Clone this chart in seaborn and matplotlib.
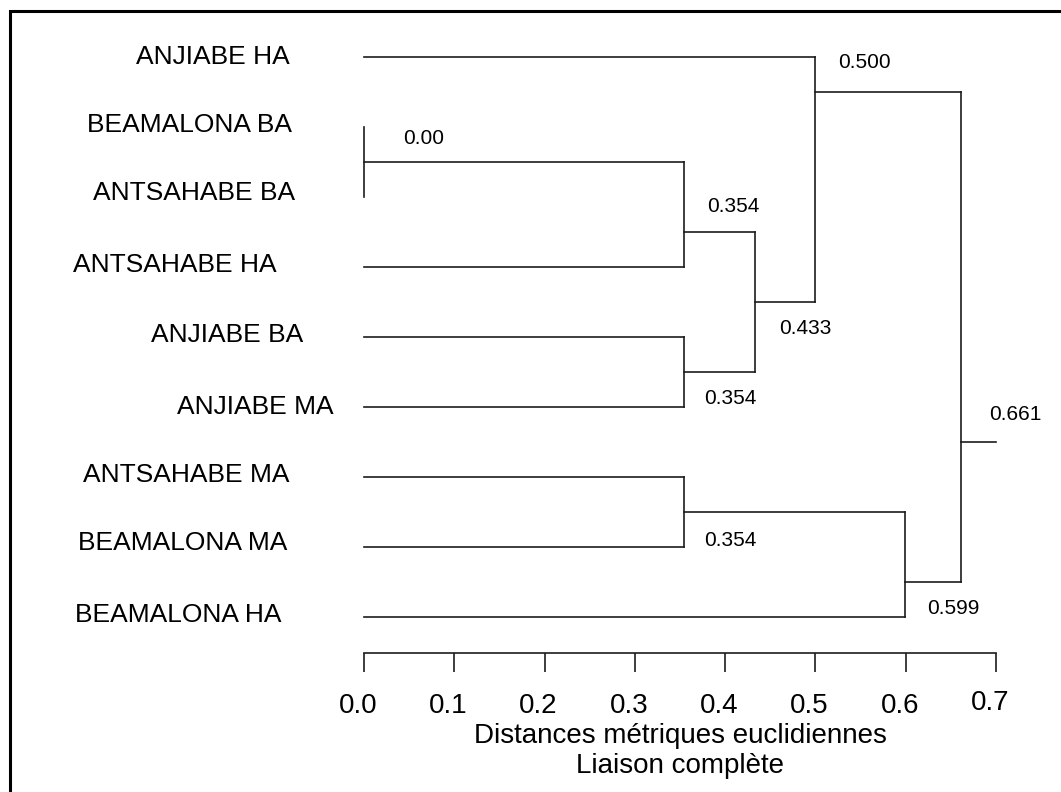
import matplotlib
matplotlib.use("Agg")
import matplotlib.pyplot as plt
from matplotlib.lines import Line2D
from matplotlib.transforms import ScaledTranslation
import pandas as pd
import seaborn as sns

# Sampling sites, listed from top to bottom of the tree
sites = ["ANJIABE HA", "BEAMALONA BA", "ANTSAHABE BA", "ANTSAHABE HA",
         "ANJIABE BA", "ANJIABE MA", "ANTSAHABE MA", "BEAMALONA MA",
         "BEAMALONA HA"]

# Complete-linkage agglomeration: clusters 0..8 are the sites,
# step k joins merge_left[k] and merge_right[k] into cluster 9 + k.
merge_left = [1, 9, 4, 10, 0, 6, 14, 13]
merge_right = [2, 3, 5, 11, 12, 7, 8, 15]
merge_height = [0.00, 0.354, 0.354, 0.433, 0.500, 0.354, 0.599, 0.661]
height_decimals = [2, 3, 3, 3, 3, 3, 3, 3]

x_ticks = [0.0, 0.1, 0.2, 0.3, 0.4, 0.5, 0.6, 0.7]
x_tick_labels = ["0.0", "0.1", "0.2", "0.3", "0.4", "0.5", "0.6", "0.7"]
x_title = "Distances métriques euclidiennes\nLiaison complète"

# ---- layout -------------------------------------------------------------
W, H, DPI = 1061, 792, 100
AX_LEFT, AX_RIGHT = 364, 996          # pixel span of the distance axis
AX_TOP, AX_BOTTOM = 22, 653           # pixel span of the axes (bottom = axis line)
SLOT0, SLOT_STEP = 57, 70             # pixel row of first site, row spacing

# row (in site slots) where each junction hands on to its parent
junction_slot = [1.5, 2.5, 4.5, 3.5, 0.5, 6.5, 7.5, 5.5]
# distance label offsets in pixels (right, down) from each junction
value_dx = [39, 24, 21, 24, 23, 21, 22, 28]
value_dy = [-17.5, -20.5, 32.5, 32.5, -23.5, 33.5, 31.5, -22.5]
# site label offsets in pixels (left edge relative to distance 0, baseline below row)
site_dx = [-228, -277, -271, -291, -213, -187, -281, -286, -289]
site_dy = [7.5, 4.5, 2.5, 4.5, 5.5, 7.5, 5.5, 2.5, 4.5]

LINE_COLOR = "#1c1c1c"

sns.set_style("white")
plt.rcParams["font.family"] = ["Liberation Sans", "DejaVu Sans"]

fig = plt.figure(figsize=(W / DPI, H / DPI), dpi=DPI)
fig.patch.set_facecolor("white")
ax = fig.add_axes([AX_LEFT / W, (H - AX_BOTTOM) / H,
                   (AX_RIGHT - AX_LEFT) / W, (AX_BOTTOM - AX_TOP) / H])

# ---- build the dendrogram segments from the merge table -----------------
pos = {i: (0.0, float(i)) for i in range(len(sites))}   # cluster -> (height, slot)
rows = []
seg = 0


def add_segment(x0, y0, x1, y1):
    global seg
    rows.append({"segment": seg, "distance": x0, "slot": y0})
    rows.append({"segment": seg, "distance": x1, "slot": y1})
    seg += 1


for k, (a, b, h) in enumerate(zip(merge_left, merge_right, merge_height)):
    for c in (a, b):
        hc, yc = pos[c]
        add_segment(hc, yc, h, yc)
    add_segment(h, pos[a][1], h, pos[b][1])
    pos[len(sites) + k] = (h, junction_slot[k])

root_h, root_y = pos[len(sites) + len(merge_height) - 1]
add_segment(root_h, root_y, x_ticks[-1], root_y)

segments = pd.DataFrame(rows)
sns.lineplot(data=segments, x="distance", y="slot", units="segment",
             estimator=None, sort=False, color=LINE_COLOR, linewidth=1.2,
             legend=False, ax=ax)
for line in ax.lines:
    line.set_clip_on(False)
    line.set_solid_capstyle("projecting")

# ---- axes ---------------------------------------------------------------
ax.set_xlim(x_ticks[0], x_ticks[-1])
ax.set_ylim((AX_BOTTOM - SLOT0) / SLOT_STEP, (AX_TOP - SLOT0) / SLOT_STEP)
for side in ("top", "right", "left"):
    ax.spines[side].set_visible(False)
ax.spines["bottom"].set_color(LINE_COLOR)
ax.spines["bottom"].set_linewidth(1.2)
ax.set_yticks([])
ax.set_ylabel("")
ax.set_xticks(x_ticks)
ax.set_xticklabels(x_tick_labels)
ax.tick_params(axis="x", direction="out", length=13.7, width=1.2,
               color=LINE_COLOR, pad=15, labelsize=20, labelcolor="black",
               bottom=True)
ax.set_xlabel(x_title, fontsize=20, linespacing=1.22, labelpad=3,
              color="black")
ax.patch.set_alpha(0)

for i, lbl in enumerate(ax.get_xticklabels()):
    up = 0.03 if i == len(x_ticks) - 1 else 0.0
    lbl.set_transform(lbl.get_transform()
                      + ScaledTranslation(-0.06, up, fig.dpi_scale_trans))

# ---- site names ---------------------------------------------------------
for i, name in enumerate(sites):
    ax.annotate(name, xy=(0.0, i), xytext=(site_dx[i], -site_dy[i]),
                textcoords="offset pixels", ha="left", va="baseline",
                fontsize=19, color="black", annotation_clip=False)

# ---- fusion distances ---------------------------------------------------
for k, h in enumerate(merge_height):
    ax.annotate(f"{h:.{height_decimals[k]}f}", xy=(h, junction_slot[k]),
                xytext=(value_dx[k], -value_dy[k]), textcoords="offset pixels",
                ha="left", va="baseline", fontsize=15, color="black",
                annotation_clip=False)

# ---- outer frame (top and left edges) -----------------------------------
fx = 10 / W
fy = 1 - 10.5 / H
fig.add_artist(Line2D([fx, fx, 1.0], [0.0, fy, fy], transform=fig.transFigure,
                      color="black", linewidth=2.2, solid_joinstyle="miter"))

fig.savefig("out.png", dpi=DPI, facecolor="white")
